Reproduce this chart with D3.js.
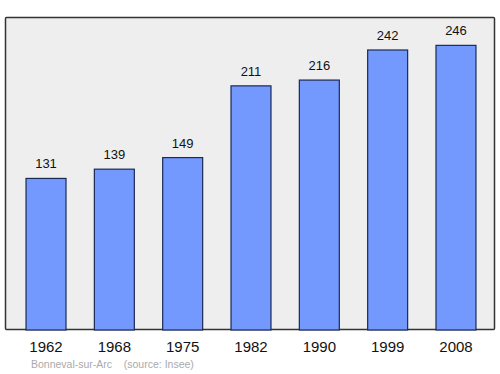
<!DOCTYPE html>
<html>
<head>
<meta charset="utf-8">
<script src="https://cdn.jsdelivr.net/npm/d3@7"></script>
<style>
  body { margin: 0; background: #fff; }
  text { font-family: "Liberation Sans", Arial, sans-serif; }
</style>
</head>
<body>
<div id="chart"></div>
<script>
// population by census year
var years = ['1962', '1968', '1975', '1982', '1990', '1999', '2008'];
var population = [131, 139, 149, 211, 216, 242, 246];
var sourceText = 'Bonneval-sur-Arc    (source: Insee)';

var width = 500, height = 374;
var panel = { left: 5.5, top: 17.5, right: 494.5, bottom: 329.5 };

var svg = d3.select('#chart').append('svg')
    .attr('width', width)
    .attr('height', height);

// background panel
svg.append('rect')
    .attr('x', panel.left)
    .attr('y', panel.top)
    .attr('width', panel.right - panel.left)
    .attr('height', panel.bottom - panel.top)
    .attr('rx', 1)
    .attr('fill', '#eeeeee')
    .attr('stroke', '#333333')
    .attr('stroke-width', 1.5);

var xScale = d3.scaleBand()
    .domain(years)
    .range([11, 491])
    .paddingInner(0.415)
    .paddingOuter(0.22);

var yScale = d3.scaleLinear()
    .domain([0, 270])
    .range([330, 17.6]);

var bars = svg.append('g');

bars.selectAll('rect')
    .data(population)
    .enter().append('rect')
    .attr('x', function (d, i) { return xScale(years[i]); })
    .attr('y', function (d) { return yScale(d); })
    .attr('width', xScale.bandwidth())
    .attr('height', function (d) { return yScale(0) - yScale(d); })
    .attr('fill', '#7399ff')
    .attr('stroke', '#1a2a55')
    .attr('stroke-width', 1.2);

bars.selectAll('text')
    .data(population)
    .enter().append('text')
    .attr('x', function (d, i) { return xScale(years[i]) + xScale.bandwidth() / 2; })
    .attr('y', function (d) { return yScale(d) - 10; })
    .attr('text-anchor', 'middle')
    .attr('font-size', 13)
    .attr('fill', '#111')
    .text(function (d) { return d; });

// x axis labels
var xAxisCall = d3.axisBottom(xScale).tickSize(0).tickPadding(0);
var xAxis = svg.append('g')
    .attr('transform', 'translate(0,' + panel.bottom + ')')
    .call(xAxisCall);
xAxis.select('.domain').remove();
xAxis.selectAll('text')
    .attr('dy', null)
    .attr('y', 22.5)
    .attr('font-size', 15)
    .attr('fill', '#111')
    .style('font-family', '"Liberation Sans", Arial, sans-serif');

svg.append('text')
    .attr('x', 31)
    .attr('y', 368)
    .attr('font-size', 10.5)
    .attr('fill', '#aaaaaa')
    .attr('xml:space', 'preserve')
    .style('white-space', 'pre')
    .text(sourceText);
</script>
</body>
</html>
